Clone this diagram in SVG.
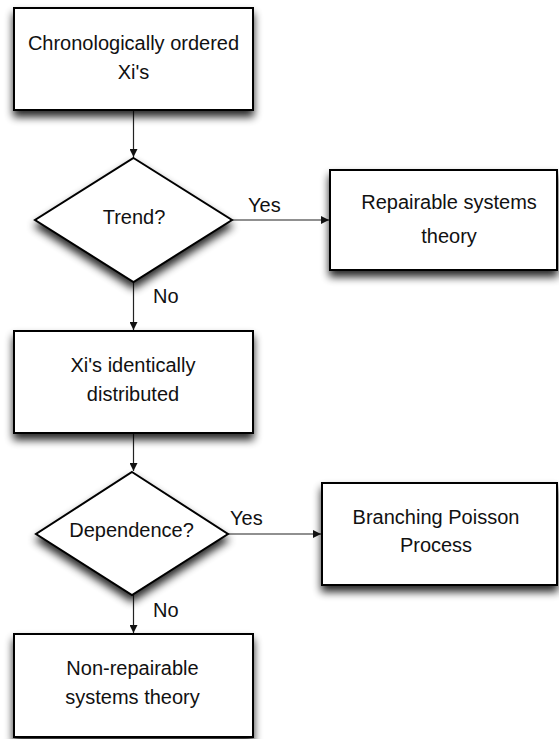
<svg xmlns="http://www.w3.org/2000/svg" width="559" height="739" viewBox="0 0 559 739">
  <style>
    .shape { fill: #ffffff; stroke: #000000; stroke-width: 2; filter: url(#shadow); }
    .label { font-family: "Liberation Sans", Arial, sans-serif; font-size: 20px; fill: #111111; text-anchor: middle; }
    .edge-label { font-family: "Liberation Sans", Arial, sans-serif; font-size: 20px; fill: #111111; }
    .edge { stroke: #222222; stroke-width: 1.2; fill: none; marker-end: url(#arrow); }
  </style>
  <defs>
    <filter id="shadow" x="-20%" y="-20%" width="140%" height="150%">
      <feGaussianBlur in="SourceAlpha" stdDeviation="4.5"/>
      <feOffset dx="0" dy="6" result="blur"/>
      <feComponentTransfer>
        <feFuncA type="linear" slope="0.85"/>
      </feComponentTransfer>
      <feMerge>
        <feMergeNode/>
        <feMergeNode in="SourceGraphic"/>
      </feMerge>
    </filter>
    <marker id="arrow" viewBox="0 0 10 10" refX="10" refY="5" markerWidth="8" markerHeight="8" markerUnits="userSpaceOnUse" orient="auto">
      <path d="M0,0 L10,5 L0,10 Z" fill="#111111"/>
    </marker>
  </defs>

  <rect width="559" height="739" fill="#ffffff"/>

  <!-- connectors -->
  <g id="connectors">
    <line class="edge" x1="133.5" y1="110" x2="133.5" y2="157"/>
    <line class="edge" x1="232" y1="220" x2="329" y2="220"/>
    <line class="edge" x1="133.5" y1="282" x2="133.5" y2="330"/>
    <line class="edge" x1="133.5" y1="433" x2="133.5" y2="471"/>
    <line class="edge" x1="228" y1="534" x2="321" y2="534"/>
    <line class="edge" x1="133.5" y1="595" x2="133.5" y2="633"/>
    <text class="edge-label" x="248" y="211.5">Yes</text>
    <text class="edge-label" x="153" y="302.5">No</text>
    <text class="edge-label" x="230" y="525">Yes</text>
    <text class="edge-label" x="153" y="616.5">No</text>
  </g>

  <!-- nodes -->
  <g id="chronological">
    <rect class="shape" x="14" y="8" width="239" height="102"/>
    <text class="label" x="133.5" y="50">Chronologically ordered</text>
    <text class="label" x="133.5" y="79">Xi's</text>
  </g>

  <g id="trend">
    <polygon class="shape" points="133.5,158 232,220 133.5,282 35,220"/>
    <text class="label" x="134" y="223.5">Trend?</text>
  </g>

  <g id="repairable">
    <rect class="shape" x="330" y="170" width="227" height="100"/>
    <text class="label" x="449" y="209">Repairable systems</text>
    <text class="label" x="449" y="243">theory</text>
  </g>

  <g id="identically">
    <rect class="shape" x="14" y="331" width="239" height="102"/>
    <text class="label" x="133" y="371.5">Xi's identically</text>
    <text class="label" x="133" y="401">distributed</text>
  </g>

  <g id="dependence">
    <polygon class="shape" points="132,472 228,534 132,595 36,534"/>
    <text class="label" x="131.5" y="537">Dependence?</text>
  </g>

  <g id="branching">
    <rect class="shape" x="322" y="483" width="235" height="102"/>
    <text class="label" x="436" y="523.5">Branching Poisson</text>
    <text class="label" x="436" y="552">Process</text>
  </g>

  <g id="nonrepairable">
    <rect class="shape" x="14" y="634" width="239" height="103"/>
    <text class="label" x="132.5" y="675">Non-repairable</text>
    <text class="label" x="132.5" y="703.5">systems theory</text>
  </g>
</svg>
